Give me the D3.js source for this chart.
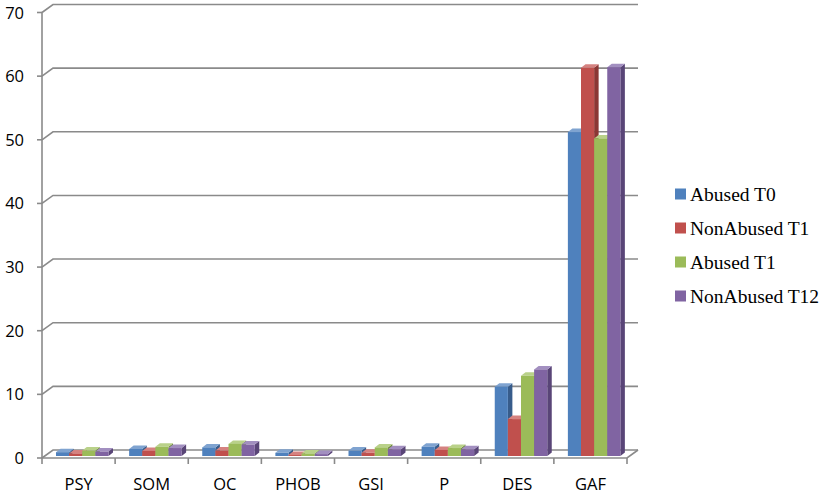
<!DOCTYPE html>
<html>
<head>
<meta charset="utf-8">
<script src="https://cdn.jsdelivr.net/npm/d3@7"></script>
<style>
  html, body { margin: 0; padding: 0; background: #fff; }
  svg { display: block; }
</style>
</head>
<body>
<svg id="chart" width="827" height="499"></svg>
<script>
// ---- data ----
const categories = ["PSY", "SOM", "OC", "PHOB", "GSI", "P", "DES", "GAF"];
const seriesNames = ["Abused T0", "NonAbused T1", "Abused T1", "NonAbused T12"];
const abusedT0     = [0.6, 1.1, 1.35, 0.5, 0.85, 1.45, 10.9, 50.9];
const nonAbusedT1  = [0.4, 0.8, 0.85, 0.15, 0.5, 0.95, 5.8, 61.0];
const abusedT1     = [0.85, 1.45, 1.9, 0.4, 1.35, 1.25, 12.6, 49.9];
const nonAbusedT12 = [0.7, 1.25, 1.8, 0.3, 1.05, 1.05, 13.6, 61.1];
const yTicks = [0, 10, 20, 30, 40, 50, 60, 70];

const seriesValues = [abusedT0, nonAbusedT1, abusedT1, nonAbusedT12];
const palette = [
  { front: "#4F81BD", side: "#375C8B", top: "#7FA3D0" },
  { front: "#C0504D", side: "#8B3734", top: "#D58280" },
  { front: "#9BBB59", side: "#6F893C", top: "#B9D189" },
  { front: "#8064A2", side: "#594577", top: "#A28FC0" }
];

const svg = d3.select("#chart");
const left = 42, right = 627;
const wallDx = 11, wallDy = -8;    // back-wall offset
const barDx = 4.5, barDy = -3.5;   // bar depth
const barShiftY = -2;              // bar front plane offset

const x0 = d3.scaleBand().domain(categories).range([left, right]).padding(0);
const x1 = d3.scaleBand().domain(seriesNames).range([14, 66.5]).padding(0);
const y = d3.scaleLinear().domain([0, 70]).range([458, 12.5]);

const gridColor = "#8a8a8a";

// gridlines on back wall with diagonal connectors
const grid = svg.append("g");
yTicks.forEach(t => {
  const yy = y(t);
  grid.append("path")
    .attr("d", `M${left},${yy} L${left + wallDx},${yy + wallDy} L${right + wallDx},${yy + wallDy}`)
    .attr("fill", "none").attr("stroke", gridColor).attr("stroke-width", 1.6);
});

// floor front edge + right diagonal
svg.append("path")
  .attr("d", `M${left},${y(0)} L${right},${y(0)} L${right + wallDx},${y(0) + wallDy}`)
  .attr("fill", "none").attr("stroke", gridColor).attr("stroke-width", 1.6);

// y axis line
svg.append("line")
  .attr("x1", left).attr("x2", left).attr("y1", y(70)).attr("y2", y(0))
  .attr("stroke", gridColor).attr("stroke-width", 1.6);

// y ticks + labels
const yAxis = svg.append("g");
yTicks.forEach(t => {
  yAxis.append("line").attr("x1", left - 5).attr("x2", left)
    .attr("y1", y(t)).attr("y2", y(t)).attr("stroke", gridColor).attr("stroke-width", 1.6);
  yAxis.append("text").attr("x", 24).attr("y", y(t) + 6)
    .attr("text-anchor", "end")
    .attr("font-family", "'Open Sans', sans-serif").attr("font-size", 16.5)
    .attr("fill", "#000").text(t);
});

// x ticks at category boundaries
const bounds = categories.map(c => x0(c)).concat([right]);
bounds.forEach(b => {
  svg.append("line").attr("x1", b).attr("x2", b)
    .attr("y1", y(0)).attr("y2", y(0) + 6)
    .attr("stroke", gridColor).attr("stroke-width", 1.6);
});

// category labels
categories.forEach(c => {
  svg.append("text").attr("x", x0(c) + x0.bandwidth() / 2).attr("y", 490)
    .attr("text-anchor", "middle")
    .attr("font-family", "'Open Sans', sans-serif").attr("font-size", 16.5)
    .attr("fill", "#000").text(c);
});

// bars
const bars = svg.append("g");
categories.forEach((c, ci) => {
  seriesNames.forEach((s, si) => {
    const v = seriesValues[si][ci];
    const xl = x0(c) + x1(s);
    const xr = xl + x1.bandwidth();
    const yb = y(0) + barShiftY;
    const yt = y(v) + barShiftY;
    const col = palette[si];
    // side
    bars.append("path")
      .attr("d", `M${xr},${yb} L${xr},${yt} L${xr + barDx},${yt + barDy} L${xr + barDx},${yb + barDy} Z`)
      .attr("fill", col.side);
    // top
    bars.append("path")
      .attr("d", `M${xl},${yt} L${xl + barDx},${yt + barDy} L${xr + barDx},${yt + barDy} L${xr},${yt} Z`)
      .attr("fill", col.top);
    // front
    bars.append("rect")
      .attr("x", xl).attr("y", yt).attr("width", x1.bandwidth()).attr("height", yb - yt)
      .attr("fill", col.front);
  });
});

// legend
const legend = svg.append("g");
seriesNames.forEach((s, i) => {
  const cy = 194 + i * 34;
  legend.append("rect").attr("x", 675).attr("y", cy - 5.5).attr("width", 11).attr("height", 11)
    .attr("fill", palette[i].front);
  legend.append("text").attr("x", 690).attr("y", cy + 6.5)
    .attr("font-family", "'Liberation Serif', 'Times New Roman', serif").attr("font-size", 19.5)
    .attr("fill", "#000").text(s);
});
</script>
</body>
</html>
